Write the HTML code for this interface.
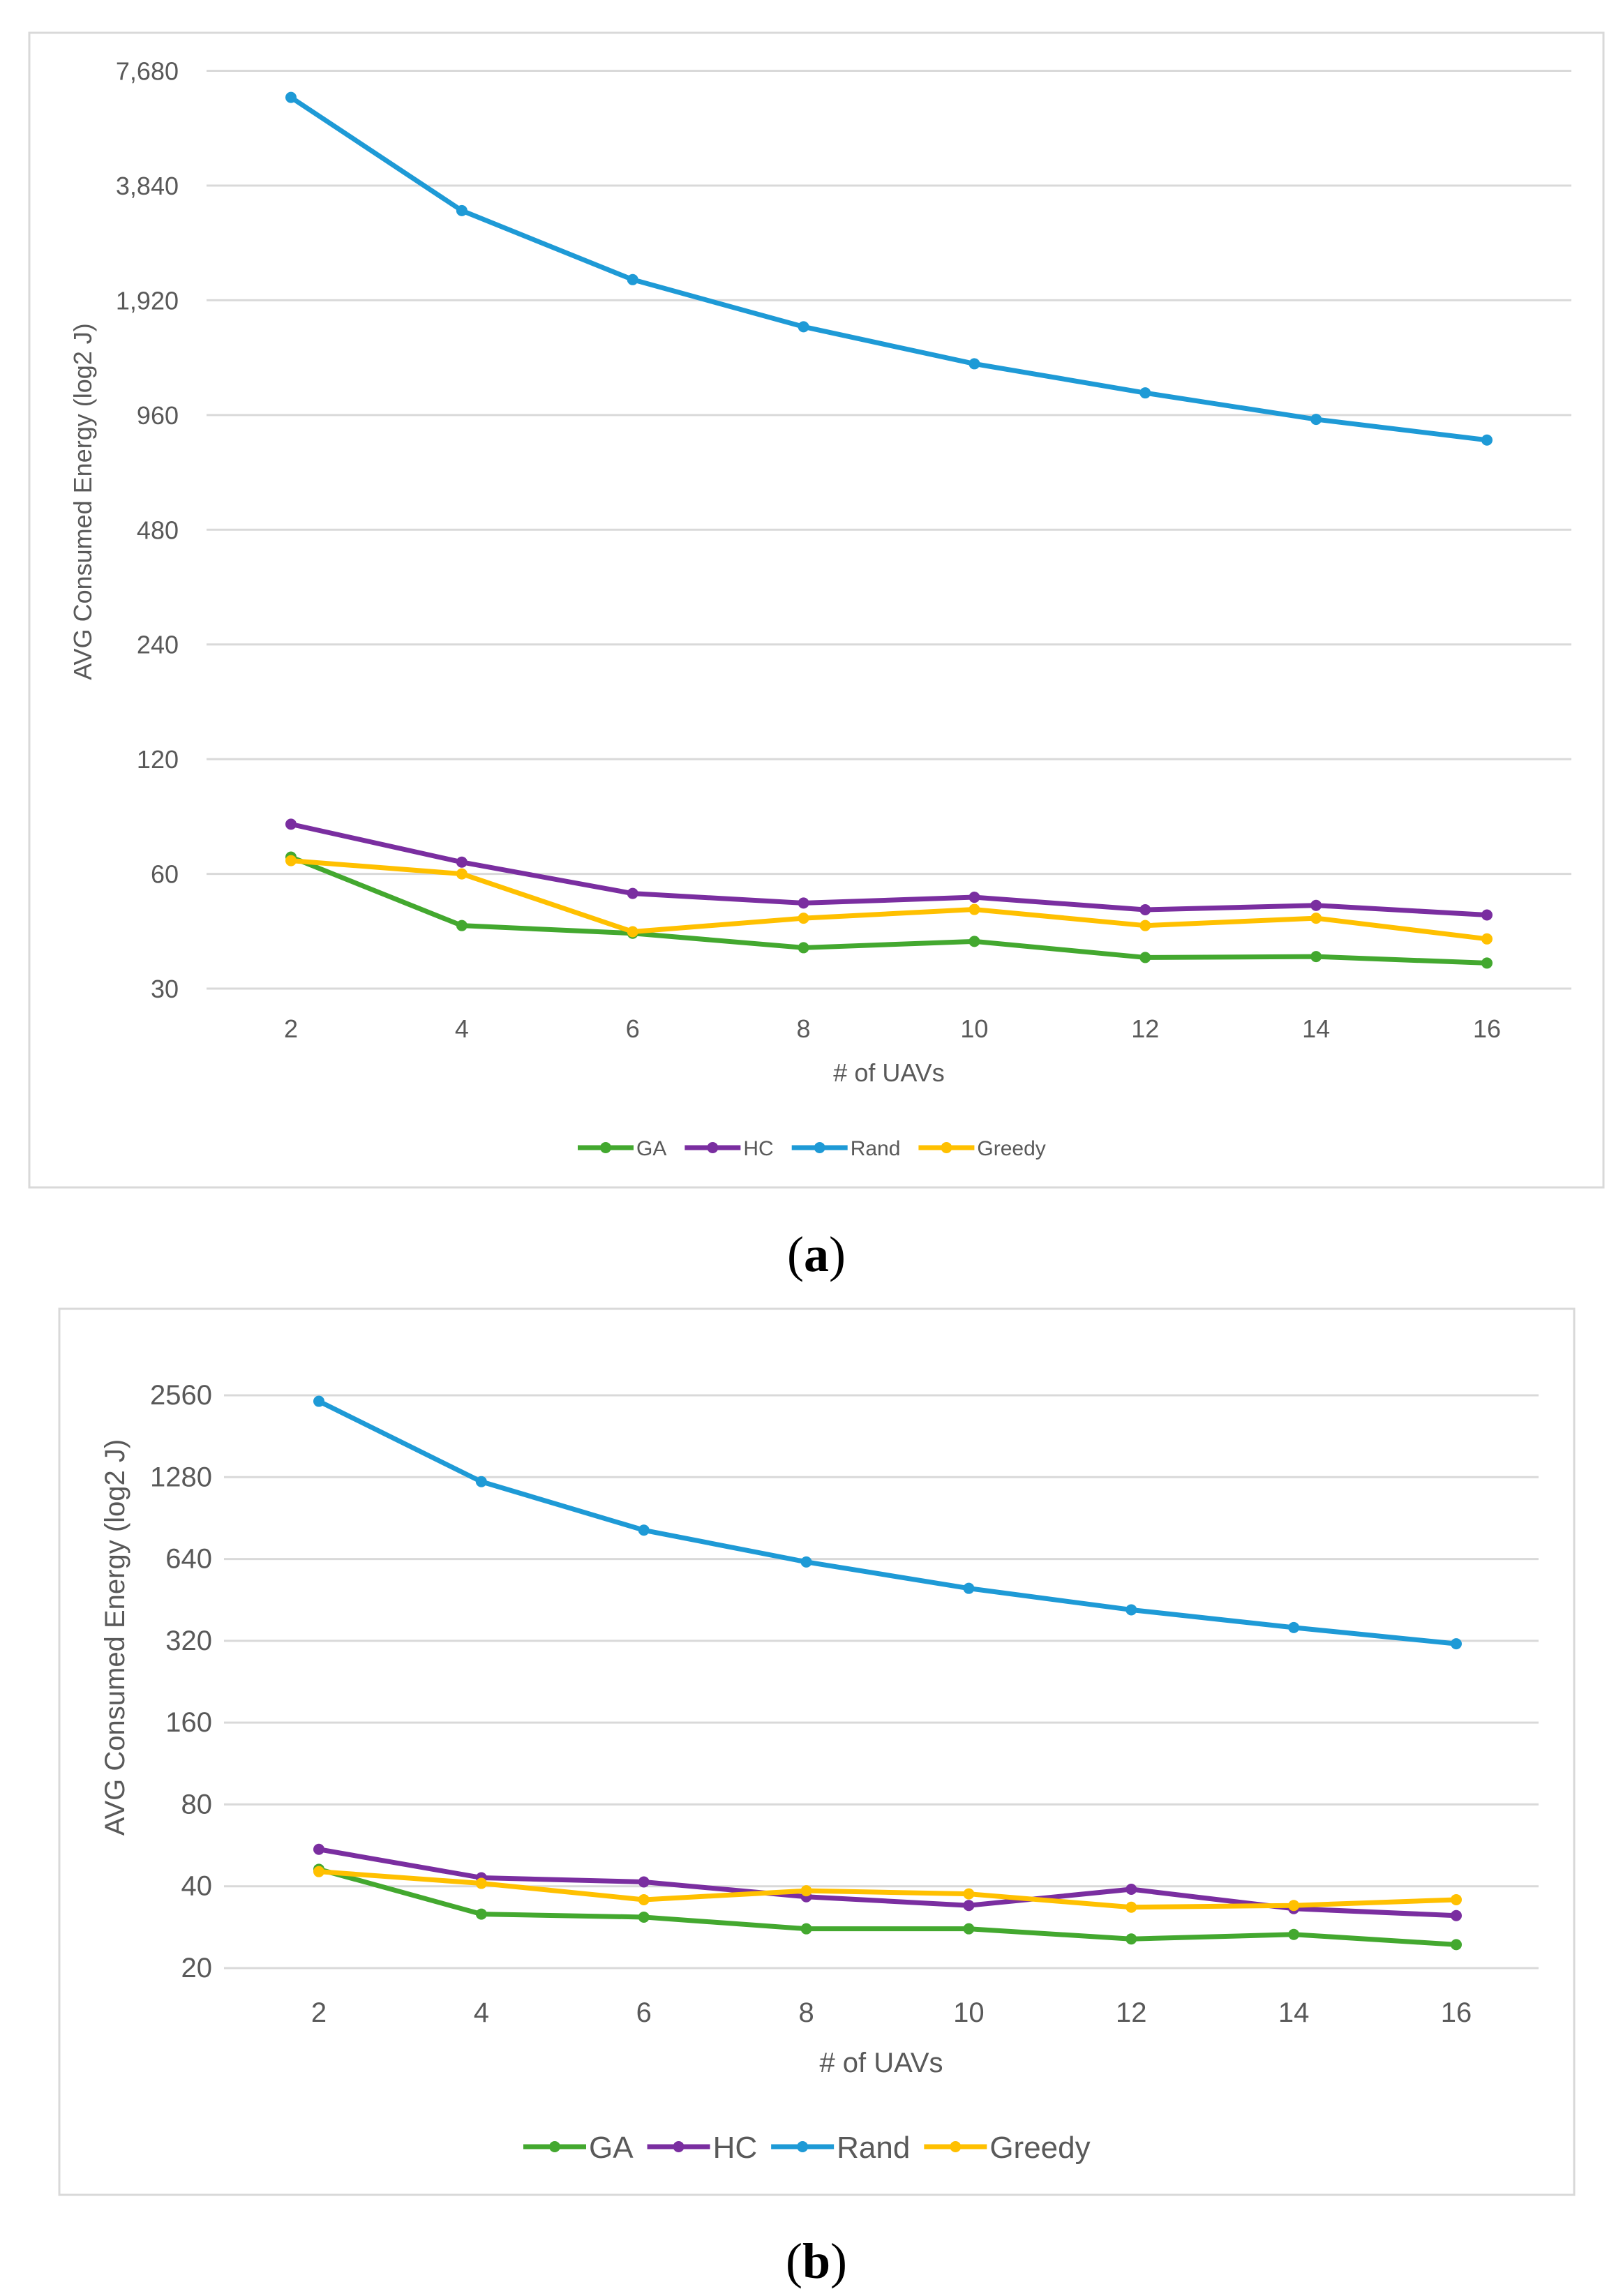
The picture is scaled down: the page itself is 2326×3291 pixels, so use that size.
<!DOCTYPE html>
<html><head><meta charset="utf-8"><style>
html,body{margin:0;padding:0;background:#fff;}
svg{display:block;}
</style></head><body>
<svg id="fig" width="2326" height="3291" viewBox="0 0 2326 3291" xmlns="http://www.w3.org/2000/svg" font-family="Liberation Sans, sans-serif">
<rect x="42" y="47" width="2256" height="1655" fill="#fff" stroke="#d9d9d9" stroke-width="3"/>
<rect x="85" y="1876" width="2171" height="1270" fill="#fff" stroke="#d9d9d9" stroke-width="3"/>
<g id="ca"></g>
<g id="cb"></g>
<text x="1170" y="1822" text-anchor="middle" font-family="Liberation Serif, serif" font-size="72" fill="#000">(<tspan font-weight="bold">a</tspan>)</text>
<text x="1170" y="3265" text-anchor="middle" font-family="Liberation Serif, serif" font-size="72" fill="#000">(<tspan font-weight="bold">b</tspan>)</text>
</svg>
<script>
const xCats = [2,4,6,8,10,12,14,16];
const seriesNames = ['GA','HC','Rand','Greedy'];
const seriesColors = ['#43a82f','#7a2ea0','#1e9ad6','#ffc000'];
const aTicks = [30,60,120,240,480,960,1920,3840,7680];
const aTickLabels = ['30','60','120','240','480','960','1,920','3,840','7,680'];
const aGA = [66.4,43.9,41.9,38.4,39.9,36.2,36.4,35.0];
const aHC = [81,64.4,53.3,50.3,52.1,48.3,49.6,46.8];
const aRand = [6540,3300,2175,1636,1308,1097,935,825];
const aGreedy = [65,60,42.3,45.9,48.4,43.9,45.9,40.5];
const bTicks = [20,40,80,160,320,640,1280,2560];
const bTickLabels = ['20','40','80','160','320','640','1280','2560'];
const bGA = [46.2,31.6,30.8,27.9,27.9,25.6,26.6,24.4];
const bHC = [54.7,43.0,41.5,36.6,34.0,39.0,33.1,31.2];
const bRand = [2434,1232,817,624,499,416,358,312];
const bGreedy = [45.3,41,35.7,38.5,37.5,33.5,34,35.7];

const NS='http://www.w3.org/2000/svg';
function mk(parent,tag,attrs,text){const e=document.createElementNS(NS,tag);for(const k in attrs)e.setAttribute(k,attrs[k]);if(text!==undefined)e.textContent=text;parent.appendChild(e);return e;}

function drawChart(g,cfg,series,ticks,tickLabels){
  const yMin=ticks[0], yMax=ticks[ticks.length-1];
  const ys=v=>cfg.yBot-(Math.log2(v)-Math.log2(yMin))/(Math.log2(yMax)-Math.log2(yMin))*(cfg.yBot-cfg.yTop);
  const xs=c=>cfg.x0+(c-xCats[0])/(xCats[xCats.length-1]-xCats[0])*(cfg.x1-cfg.x0);
  ticks.forEach((t,i)=>{
    const gl=mk(g,'line',{x1:cfg.pl,x2:cfg.pr,y1:ys(t),y2:ys(t),stroke:'#d9d9d9','stroke-width':3});
    
    
    const tl=mk(g,'text',{x:cfg.tickX,y:ys(t)+13,'text-anchor':'end','font-size':cfg.fs,fill:'#595959'},tickLabels[i]);
    
    
  });
  xCats.forEach(c=>{
    const xl=mk(g,'text',{x:xs(c),y:cfg.xLabY,'text-anchor':'middle','font-size':cfg.fs,fill:'#595959'},String(c));
    
    
  });
  const xt=mk(g,'text',{x:(cfg.pl+cfg.pr)/2,y:cfg.xTitleY,'text-anchor':'middle','font-size':cfg.fs,fill:'#595959'},'# of UAVs');
  
  
  const yt=mk(g,'text',{x:0,y:0,'text-anchor':'middle','font-size':cfg.fs,fill:'#595959',transform:`translate(${cfg.yTitleX},${cfg.yTitleY}) rotate(-90)`},'AVG Consumed Energy (log2 J)');
  
  
  series.forEach((vals,si)=>{
    const pts=vals.map((v,i)=>xs(xCats[i])+','+ys(v)).join(' ');
    const pl=mk(g,'polyline',{points:pts,fill:'none',stroke:seriesColors[si],'stroke-width':7,'stroke-linejoin':'round'});
    
    
    vals.forEach((v,i)=>{
      const c=mk(g,'circle',{cx:xs(xCats[i]),cy:ys(v),r:8,fill:seriesColors[si]});
      
      
    });
  });
  let lx=cfg.legX;
  seriesNames.forEach((n,si)=>{
    const lg=mk(g,'g',{});
    
    
    mk(lg,'line',{x1:lx,x2:lx+cfg.legLine,y1:cfg.legY,y2:cfg.legY,stroke:seriesColors[si],'stroke-width':7});
    mk(lg,'circle',{cx:lx+cfg.legLine/2,cy:cfg.legY,r:8,fill:seriesColors[si]});
    const t=mk(lg,'text',{x:lx+cfg.legLine+4,y:cfg.legY+cfg.legFs*0.36,'font-size':cfg.legFs,fill:'#595959'},n);
    lx+=cfg.legLine+4+t.getComputedTextLength()+cfg.legGap;
  });
}
drawChart(document.getElementById('ca'),
  {yTop:101.5,yBot:1417,x0:417,x1:2131,pl:296,pr:2252,tickX:256,fs:36,xLabY:1487,xTitleY:1550,yTitleX:131,yTitleY:719,legX:828,legY:1645,legLine:80,legFs:30,legGap:26},
  [aGA,aHC,aRand,aGreedy],aTicks,aTickLabels);
drawChart(document.getElementById('cb'),
  {yTop:2000,yBot:2821,x0:457,x1:2087,pl:321,pr:2205,tickX:304,fs:40,xLabY:2898,xTitleY:2970,yTitleX:178,yTitleY:2347,legX:750,legY:3077,legLine:90,legFs:44,legGap:20},
  [bGA,bHC,bRand,bGreedy],bTicks,bTickLabels);
</script>
</body></html>
